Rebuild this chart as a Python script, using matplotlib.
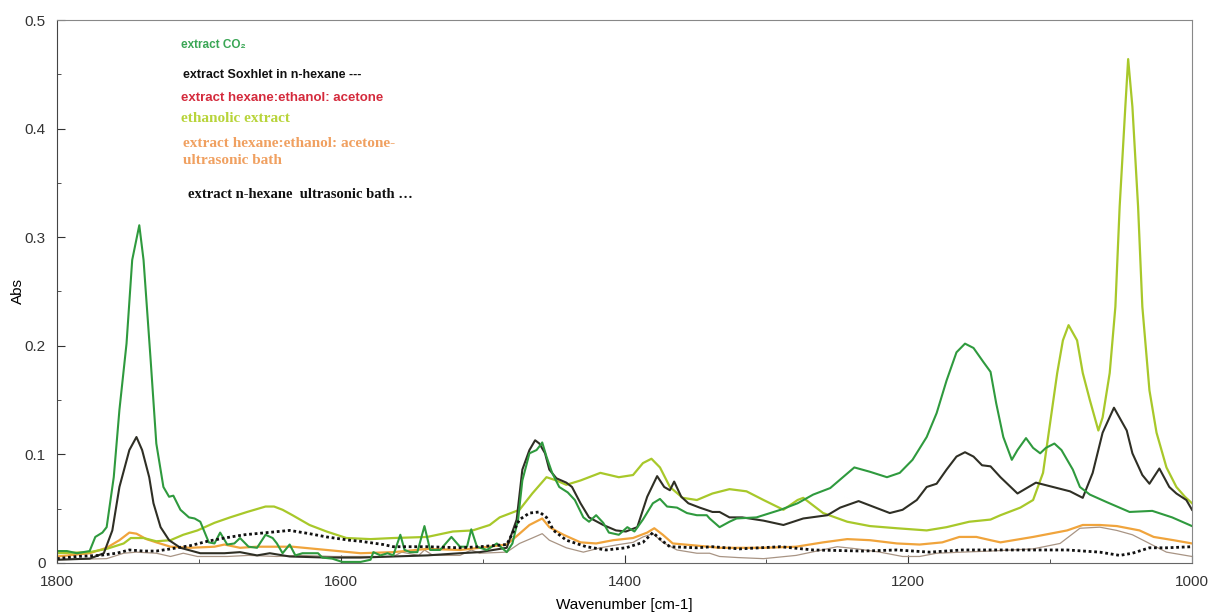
import matplotlib
matplotlib.use("Agg")
import matplotlib.pyplot as plt
from matplotlib.ticker import MultipleLocator

plt.rcParams["font.family"] = ["Liberation Sans", "DejaVu Sans"]

# (wavenumber cm-1, absorbance)
co2 = [
    (1800, 0.011), (1793, 0.011), (1786, 0.009), (1777, 0.011), (1773, 0.024),
    (1768, 0.028), (1765, 0.033), (1760, 0.079), (1756, 0.141), (1751, 0.202),
    (1747, 0.279), (1742, 0.311), (1739, 0.279), (1734, 0.187), (1730, 0.110),
    (1725, 0.070), (1721, 0.061), (1718, 0.062), (1713, 0.049), (1707, 0.042),
    (1703, 0.041), (1699, 0.038), (1693, 0.019), (1689, 0.018), (1685, 0.028),
    (1680, 0.017), (1675, 0.018), (1671, 0.023), (1665, 0.015), (1659, 0.014),
    (1653, 0.026), (1648, 0.023), (1645, 0.018), (1641, 0.009), (1636, 0.017),
    (1632, 0.007), (1627, 0.009), (1622, 0.009), (1616, 0.009), (1613, 0.005),
    (1606, 0.004), (1599, 0.001), (1586, 0.001), (1579, 0.003), (1577, 0.010),
    (1572, 0.007), (1567, 0.009), (1563, 0.007), (1558, 0.026), (1555, 0.012),
    (1551, 0.010), (1546, 0.010), (1541, 0.034), (1537, 0.012), (1530, 0.012),
    (1522, 0.024), (1516, 0.015), (1511, 0.015), (1508, 0.031), (1504, 0.015),
    (1497, 0.012), (1490, 0.018), (1483, 0.010), (1479, 0.018), (1475, 0.040),
    (1472, 0.076), (1467, 0.101), (1462, 0.104), (1459, 0.109), (1458, 0.111),
    (1455, 0.098), (1451, 0.083), (1446, 0.070), (1440, 0.065), (1435, 0.058),
    (1429, 0.042), (1425, 0.038), (1420, 0.044), (1415, 0.037), (1411, 0.028),
    (1404, 0.026), (1398, 0.033), (1393, 0.029), (1387, 0.040), (1380, 0.055),
    (1375, 0.059), (1370, 0.052), (1363, 0.051), (1356, 0.046), (1349, 0.044),
    (1342, 0.044), (1340, 0.041), (1333, 0.033), (1326, 0.038), (1321, 0.041),
    (1307, 0.042), (1290, 0.049), (1278, 0.055), (1267, 0.063), (1255, 0.069),
    (1246, 0.079), (1238, 0.088), (1227, 0.084), (1215, 0.079), (1206, 0.083),
    (1197, 0.095), (1187, 0.116), (1180, 0.138), (1173, 0.168), (1166, 0.194),
    (1160, 0.202), (1154, 0.198), (1147, 0.185), (1142, 0.176), (1138, 0.147),
    (1133, 0.116), (1127, 0.095), (1123, 0.104), (1117, 0.115), (1112, 0.106),
    (1107, 0.101), (1103, 0.106), (1097, 0.110), (1092, 0.104), (1084, 0.086),
    (1079, 0.070), (1072, 0.063), (1060, 0.056), (1044, 0.047), (1028, 0.048),
    (1014, 0.042), (1000, 0.034),
]

soxhlet = [
    (1800, 0.003), (1777, 0.004), (1767, 0.009), (1761, 0.030), (1756, 0.070),
    (1749, 0.104), (1744, 0.116), (1740, 0.104), (1735, 0.079), (1732, 0.055),
    (1727, 0.033), (1721, 0.021), (1713, 0.014), (1699, 0.009), (1682, 0.009),
    (1671, 0.010), (1659, 0.007), (1650, 0.009), (1636, 0.006), (1610, 0.005),
    (1586, 0.005), (1563, 0.006), (1539, 0.007), (1516, 0.009), (1502, 0.010),
    (1483, 0.014), (1476, 0.040), (1472, 0.086), (1467, 0.104), (1463, 0.113),
    (1460, 0.110), (1456, 0.101), (1453, 0.086), (1448, 0.078), (1441, 0.074),
    (1437, 0.070), (1431, 0.055), (1425, 0.042), (1415, 0.035), (1406, 0.030),
    (1399, 0.029), (1391, 0.033), (1384, 0.061), (1377, 0.080), (1372, 0.070),
    (1368, 0.067), (1365, 0.075), (1360, 0.061), (1355, 0.055), (1347, 0.051),
    (1338, 0.047), (1333, 0.047), (1326, 0.042), (1317, 0.042), (1302, 0.039),
    (1288, 0.035), (1274, 0.041), (1257, 0.044), (1248, 0.051), (1235, 0.057),
    (1225, 0.052), (1213, 0.046), (1204, 0.049), (1194, 0.058), (1187, 0.070),
    (1180, 0.073), (1173, 0.086), (1166, 0.098), (1160, 0.102), (1154, 0.098),
    (1148, 0.090), (1142, 0.089), (1135, 0.079), (1123, 0.064), (1110, 0.074),
    (1098, 0.070), (1086, 0.066), (1077, 0.060), (1070, 0.083), (1063, 0.120),
    (1055, 0.143), (1046, 0.122), (1042, 0.101), (1035, 0.081), (1030, 0.073),
    (1023, 0.087), (1016, 0.070), (1011, 0.064), (1004, 0.058), (1000, 0.049),
]

ethanolic = [
    (1800, 0.009), (1777, 0.010), (1765, 0.013), (1753, 0.018), (1748, 0.023),
    (1739, 0.023), (1730, 0.020), (1720, 0.021), (1711, 0.026), (1701, 0.030),
    (1689, 0.037), (1678, 0.042), (1666, 0.047), (1653, 0.052), (1647, 0.052),
    (1641, 0.049), (1634, 0.044), (1622, 0.035), (1610, 0.029), (1596, 0.023),
    (1579, 0.022), (1563, 0.023), (1539, 0.024), (1521, 0.029), (1507, 0.030),
    (1495, 0.035), (1488, 0.042), (1474, 0.049), (1465, 0.064), (1455, 0.079),
    (1448, 0.076), (1441, 0.072), (1431, 0.076), (1417, 0.083), (1404, 0.079),
    (1394, 0.081), (1387, 0.092), (1381, 0.096), (1375, 0.088), (1368, 0.070),
    (1359, 0.060), (1349, 0.058), (1338, 0.064), (1326, 0.068), (1314, 0.066),
    (1302, 0.058), (1288, 0.049), (1278, 0.058), (1274, 0.060), (1260, 0.046),
    (1243, 0.038), (1227, 0.034), (1208, 0.032), (1187, 0.030), (1173, 0.033),
    (1157, 0.038), (1142, 0.040), (1135, 0.044), (1121, 0.051), (1112, 0.058),
    (1105, 0.083), (1100, 0.129), (1095, 0.175), (1091, 0.205), (1087, 0.219),
    (1081, 0.205), (1077, 0.175), (1072, 0.150), (1066, 0.122), (1063, 0.134),
    (1058, 0.175), (1054, 0.236), (1051, 0.328), (1047, 0.420), (1045, 0.464),
    (1042, 0.420), (1038, 0.328), (1035, 0.236), (1030, 0.159), (1025, 0.120),
    (1018, 0.088), (1011, 0.070), (1005, 0.061), (1000, 0.055),
]

hea_ultrasonic = [
    (1800, 0.006), (1777, 0.009), (1765, 0.014), (1756, 0.021), (1749, 0.028),
    (1744, 0.027), (1737, 0.022), (1730, 0.019), (1720, 0.015), (1706, 0.014),
    (1689, 0.015), (1682, 0.017), (1671, 0.014), (1659, 0.015), (1647, 0.015),
    (1634, 0.015), (1610, 0.012), (1586, 0.009), (1563, 0.010), (1539, 0.013),
    (1516, 0.012), (1502, 0.014), (1483, 0.017), (1474, 0.027), (1467, 0.035),
    (1458, 0.041), (1453, 0.033), (1443, 0.026), (1431, 0.019), (1420, 0.018),
    (1408, 0.021), (1394, 0.023), (1384, 0.028), (1379, 0.032), (1373, 0.026),
    (1366, 0.018), (1349, 0.016), (1333, 0.014), (1302, 0.014), (1279, 0.015),
    (1260, 0.019), (1243, 0.022), (1227, 0.021), (1208, 0.018), (1192, 0.017),
    (1176, 0.019), (1164, 0.024), (1152, 0.024), (1142, 0.021), (1135, 0.019),
    (1112, 0.024), (1088, 0.030), (1077, 0.035), (1065, 0.035), (1053, 0.034),
    (1037, 0.030), (1027, 0.024), (1013, 0.021), (1000, 0.018),
]

hea = [
    (1800, 0.003), (1765, 0.004), (1753, 0.009), (1744, 0.010), (1730, 0.009),
    (1720, 0.006), (1711, 0.009), (1701, 0.006), (1680, 0.006), (1665, 0.007),
    (1645, 0.006), (1629, 0.007), (1605, 0.006), (1582, 0.006), (1563, 0.006),
    (1557, 0.010), (1545, 0.007), (1541, 0.012), (1535, 0.007), (1516, 0.007),
    (1508, 0.012), (1502, 0.009), (1483, 0.010), (1474, 0.018), (1465, 0.023),
    (1458, 0.027), (1453, 0.021), (1441, 0.014), (1429, 0.010), (1417, 0.014),
    (1404, 0.017), (1394, 0.019), (1387, 0.024), (1380, 0.027), (1373, 0.019),
    (1363, 0.012), (1349, 0.009), (1340, 0.009), (1333, 0.006), (1320, 0.005),
    (1302, 0.004), (1279, 0.007), (1250, 0.015), (1236, 0.013), (1220, 0.010),
    (1204, 0.006), (1192, 0.006), (1180, 0.009), (1162, 0.010), (1142, 0.011),
    (1112, 0.013), (1093, 0.018), (1079, 0.032), (1065, 0.033), (1053, 0.030),
    (1042, 0.026), (1030, 0.018), (1018, 0.010), (1000, 0.006),
]

hexane_ultrasonic = [
    (1800, 0.004), (1786, 0.006), (1770, 0.007), (1758, 0.009), (1749, 0.012),
    (1739, 0.011), (1730, 0.011), (1720, 0.013), (1706, 0.016), (1694, 0.020),
    (1682, 0.023), (1668, 0.026), (1652, 0.028), (1636, 0.030), (1622, 0.027),
    (1610, 0.024), (1594, 0.021), (1586, 0.020), (1570, 0.017), (1563, 0.015),
    (1539, 0.015), (1516, 0.014), (1502, 0.015), (1483, 0.017), (1474, 0.040),
    (1467, 0.046), (1460, 0.047), (1455, 0.042), (1450, 0.030), (1441, 0.021),
    (1427, 0.015), (1413, 0.012), (1399, 0.014), (1387, 0.019), (1380, 0.028),
    (1374, 0.021), (1368, 0.015), (1349, 0.014), (1338, 0.015), (1319, 0.013),
    (1290, 0.015), (1267, 0.012), (1232, 0.011), (1208, 0.012), (1185, 0.010),
    (1162, 0.012), (1135, 0.012), (1088, 0.012), (1065, 0.010), (1051, 0.007),
    (1042, 0.009), (1030, 0.014), (1018, 0.014), (1000, 0.015),
]

# legend entries drawn as coloured text, as in the original figure
legend_labels = [
    "extract CO\u2082",
    "extract Soxhlet in n-hexane ---",
    "extract hexane:ethanol: acetone",
    "ethanolic extract",
    "extract hexane:ethanol: acetone-\nultrasonic bath",
    "extract n-hexane  ultrasonic bath \u2026",
]

fig = plt.figure(figsize=(12.12, 6.16), dpi=100)
ax = fig.add_axes([57 / 1212, 53 / 616, 1135 / 1212, 543 / 616])

series = [
    (hea, "#a89484", 0.9, "-"),
    (hea_ultrasonic, "#f0a43c", 1.6, "-"),
    (ethanolic, "#a8c82a", 1.6, "-"),
    (soxhlet, "#2f2f25", 1.5, "-"),
    (co2, "#2f9a3e", 1.5, "-"),
    (hexane_ultrasonic, "#111111", 2.0, (0, (1, 1))),
]
for pts, color, lw, ls in series:
    wn, ab = zip(*pts)
    ax.plot(wn, ab, color=color, lw=lw, ls=ls)

ax.set_xlim(1800, 1000)
ax.set_ylim(0, 0.5)
ax.xaxis.set_major_locator(MultipleLocator(200))
ax.xaxis.set_minor_locator(MultipleLocator(100))
ax.yaxis.set_minor_locator(MultipleLocator(0.05))
ax.set_yticks([0, 0.1, 0.2, 0.3, 0.4, 0.5], ["0", "0.1", "0.2", "0.3", "0.4", "0.5"])
ax.tick_params(which="both", direction="in", labelsize=11, colors="#333333")
ax.tick_params(which="major", length=6)
ax.tick_params(which="minor", length=3)
ax.tick_params(axis="x", pad=9)
ax.tick_params(axis="y", pad=8)
for s in ax.spines.values():
    s.set_color("#888888")
ax.spines["left"].set_color("#444444")
ax.spines["bottom"].set_color("#666666")

ax.set_xlabel("Wavenumber [cm-1]", fontsize=11, labelpad=6)
ax.set_ylabel("Abs", fontsize=11)
ax.yaxis.set_label_coords(-0.028, 0.5)

sans = ["Liberation Sans", "DejaVu Sans"]
serif = ["Liberation Serif", "DejaVu Serif"]
styles = [
    (181, 45, "#3aa655", sans, 8.5),
    (183, 75, "#111111", sans, 9),
    (181, 98, "#d42a3c", sans, 9.5),
    (181, 119, "#b8d43a", serif, 11),
    (183, 152, "#f0a060", serif, 11),
    (188, 194, "#111111", serif, 10.5),
]
for text, (x, y, color, fam, size) in zip(legend_labels, styles):
    fig.text(x / 1212, 1 - y / 616, text, color=color, family=fam,
             fontsize=size, fontweight="bold", va="center", ha="left",
             linespacing=1.35)

fig.savefig("out.png", dpi=100)
